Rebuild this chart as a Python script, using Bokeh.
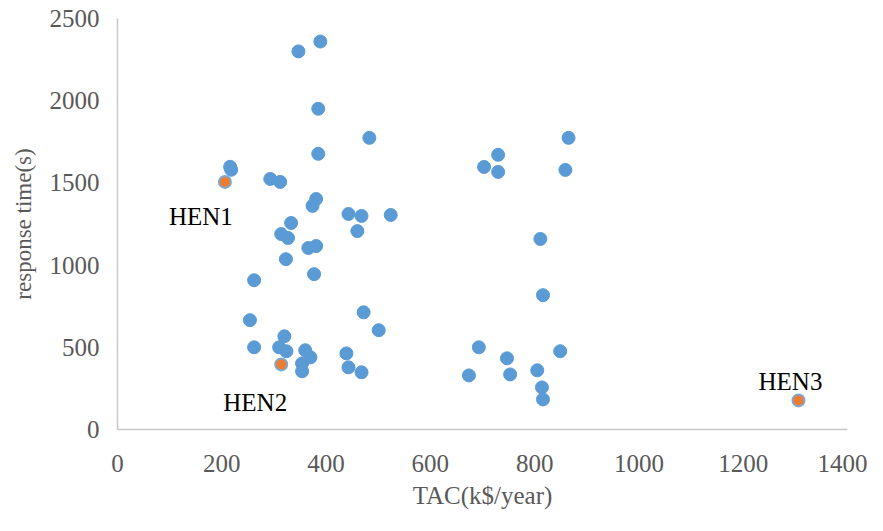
from bokeh.plotting import figure
from bokeh.models import Range1d, ColumnDataSource, FixedTicker
from bokeh.core.properties import value
from bokeh.embed import file_html
from bokeh.resources import INLINE

# ---- data ----
tac = [347, 389, 385, 483, 385, 216, 218, 293, 312, 381, 374, 443, 468, 524,
       333, 314, 327, 460, 366, 381, 323, 377, 262, 254, 472, 501, 320, 262,
       310, 324, 360, 370, 354, 354, 439, 443, 468,
       865, 730, 703, 730, 859, 811, 816, 693, 849, 747, 674, 753, 805, 814, 816]
resp = [2300, 2360, 1951, 1774, 1677, 1598, 1580, 1524, 1506, 1402, 1360, 1311, 1299, 1305,
        1256, 1189, 1165, 1207, 1104, 1116, 1036, 945, 908, 665, 713, 604, 567, 500,
        500, 476, 482, 439, 402, 354, 463, 378, 348,
        1774, 1671, 1597, 1567, 1579, 1159, 817, 500, 476, 433, 329, 335, 360, 256, 183]

hen_names = ["HEN1", "HEN2", "HEN3"]
hen_tac = [206, 314, 1306]
hen_resp = [1506, 396, 177]

x_ticks = [0, 200, 400, 600, 800, 1000, 1200, 1400]
y_ticks = [0, 500, 1000, 1500, 2000, 2500]

# ---- styling ----
FONT = "Liberation Serif"
GRAY = "#595959"
label_dx = [-24, -26, -8]
label_dy = [35, 38, -19]

p = figure(width=867, height=515, output_backend="svg", toolbar_location=None,
           x_range=Range1d(0, 1400), y_range=Range1d(0, 2500),
           min_border_left=117, min_border_right=20, min_border_top=18, min_border_bottom=86)
p.outline_line_color = None
p.xgrid.visible = False
p.ygrid.visible = False

p.scatter(tac, resp, size=13, fill_color="#5B9BD5", line_color="#5B9BD5")
p.scatter(hen_tac, hen_resp, size=12, fill_color="#ED7D31", line_color="#7FA7CF", line_width=2)

src = ColumnDataSource(dict(x=hen_tac, y=hen_resp, t=hen_names, dx=label_dx, dy=label_dy))
p.text(x="x", y="y", text="t", x_offset="dx", y_offset="dy", source=src,
       text_font=value(FONT), text_font_size="25px", text_color="black",
       text_align="center", text_baseline="middle")

for ax in (p.xaxis[0], p.yaxis[0]):
    ax.axis_line_color = "#C8C8C8"
    ax.axis_line_width = 1.5
    ax.major_tick_line_color = None
    ax.minor_tick_line_color = None
    ax.major_label_text_font = FONT
    ax.major_label_text_font_size = "25px"
    ax.major_label_text_color = GRAY
    ax.axis_label_text_font = FONT
    ax.axis_label_text_color = GRAY
    ax.axis_label_text_font_style = "normal"

p.xaxis.axis_label_text_font_size = "25px"
p.yaxis.axis_label_text_font_size = "23px"
p.xaxis.ticker = FixedTicker(ticks=x_ticks)
p.yaxis.ticker = FixedTicker(ticks=y_ticks)
p.xaxis.axis_label = "TAC(k$/year)"
p.yaxis.axis_label = "response time(s)"
p.xaxis.major_label_standoff = 19
p.xaxis.axis_label_standoff = 7
p.yaxis.major_label_standoff = 12
p.yaxis.axis_label_standoff = 11

open("out.html", "w").write(file_html(p, INLINE))
